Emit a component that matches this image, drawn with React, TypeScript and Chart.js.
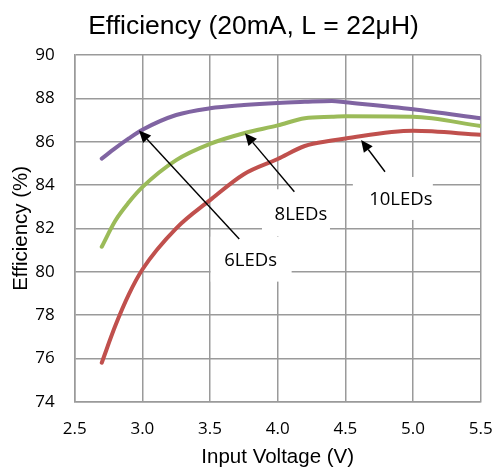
import { useEffect, useRef } from 'react';
import { Chart, registerables } from 'chart.js';

Chart.register(...registerables);

// Input voltage (V) sample points
const voltage = [2.7, 2.8, 2.9, 3.0, 3.25, 3.5, 3.75, 4.0, 4.2, 4.4, 4.5, 5.0, 5.5];
// Efficiency (%) per series
const led6 = [85.22, 85.7, 86.15, 86.55, 87.23, 87.54, 87.69, 87.79, 87.84, 87.88, 87.82, 87.5, 87.08];
const led8 = [81.15, 82.35, 83.2, 83.9, 85.15, 85.9, 86.39, 86.75, 87.08, 87.15, 87.17, 87.15, 86.72];
const led10 = [75.8, 77.5, 78.95, 80.1, 82.0, 83.3, 84.5, 85.2, 85.8, 86.05, 86.15, 86.5, 86.32];

const seriesNames = ['6LEDs', '8LEDs', '10LEDs'];
const xMin = 2.5;
const xMax = 5.5;
const xStep = 0.5;
const yMin = 74;
const yMax = 90;
const yStep = 2;

// Callout annotations (data units)
const arrowTipX = [2.975, 3.758, 4.616];
const arrowTipY = [86.52, 86.39, 86.08];
const arrowTailX = [3.716, 4.123, 4.793];
const arrowTailY = [81.51, 83.69, 84.61];
const labelX = [3.8, 4.172, 4.91];
const labelY = [80.51, 82.65, 83.31];

const titleText = 'Efficiency (20mA, L = 22μH)';
const xTitle = 'Input Voltage (V)';
const yTitle = 'Efficiency (%)';

// label box offsets in px from label centre: [left, right, top, bottom]
const BOXES = [
  [-40, 41, -24, 21],
  [-39, 29, -25, 22],
  [-48, 32, -23, 20],
];

const notesPlugin = {
  id: 'notes',
  beforeDatasetsDraw(chart: any) {
    const { ctx, scales } = chart;
    const x = scales.x;
    const y = scales.y;
    ctx.save();
    ctx.fillStyle = '#ffffff';
    seriesNames.forEach((_, i) => {
      const cx = x.getPixelForValue(labelX[i]);
      const cy = y.getPixelForValue(labelY[i]);
      const b = BOXES[i];
      ctx.fillRect(cx + b[0], cy + b[2], b[1] - b[0], b[3] - b[2]);
    });
    ctx.restore();
  },
  afterDatasetsDraw(chart: any) {
    const { ctx, scales } = chart;
    const x = scales.x;
    const y = scales.y;
    ctx.save();
    seriesNames.forEach((name, i) => {
      const tx = x.getPixelForValue(arrowTipX[i]);
      const ty = y.getPixelForValue(arrowTipY[i]);
      const sx = x.getPixelForValue(arrowTailX[i]);
      const sy = y.getPixelForValue(arrowTailY[i]);
      const ang = Math.atan2(ty - sy, tx - sx);
      const headLen = 12;
      const headW = 5.5;
      const bx = tx - headLen * Math.cos(ang);
      const by = ty - headLen * Math.sin(ang);
      ctx.strokeStyle = '#000';
      ctx.lineWidth = 1.4;
      ctx.beginPath();
      ctx.moveTo(sx, sy);
      ctx.lineTo(bx, by);
      ctx.stroke();
      ctx.fillStyle = '#000';
      ctx.beginPath();
      ctx.moveTo(tx, ty);
      ctx.lineTo(bx + headW * Math.sin(ang), by - headW * Math.cos(ang));
      ctx.lineTo(bx - headW * Math.sin(ang), by + headW * Math.cos(ang));
      ctx.closePath();
      ctx.fill();

      const cx = x.getPixelForValue(labelX[i]);
      const cy = y.getPixelForValue(labelY[i]);
      ctx.font = '18.5px "Open Sans"';
      ctx.textAlign = 'center';
      ctx.textBaseline = 'middle';
      ctx.fillStyle = '#000';
      ctx.fillText(name, cx, cy);
    });
    ctx.restore();
  },
  afterDraw(chart: any) {
    const { ctx } = chart;
    ctx.save();
    ctx.font = '26.5px "Liberation Sans"';
    ctx.textAlign = 'center';
    ctx.textBaseline = 'alphabetic';
    ctx.fillStyle = '#000';
    ctx.fillText(titleText, 253.5, 33.5);
    ctx.restore();
  },
};

export default function App() {
  const ref = useRef<HTMLCanvasElement | null>(null);

  useEffect(() => {
    if (!ref.current) return;
    const gridColor = '#9a9a9a';
    const chart = new Chart(ref.current, {
      type: 'line',
      data: {
        labels: voltage,
        datasets: [
          {
            label: seriesNames[2],
            data: voltage.map((v, i) => ({ x: v, y: led10[i] })),
            borderColor: '#C0504D',
            borderWidth: 4,
            pointRadius: 0,
            cubicInterpolationMode: 'monotone',
            borderCapStyle: 'round',
          },
          {
            label: seriesNames[1],
            data: voltage.map((v, i) => ({ x: v, y: led8[i] })),
            borderColor: '#9BBB59',
            borderWidth: 4,
            pointRadius: 0,
            cubicInterpolationMode: 'monotone',
            borderCapStyle: 'round',
          },
          {
            label: seriesNames[0],
            data: voltage.map((v, i) => ({ x: v, y: led6[i] })),
            borderColor: '#8064A2',
            borderWidth: 4,
            pointRadius: 0,
            cubicInterpolationMode: 'monotone',
            borderCapStyle: 'round',
          },
        ],
      },
      options: {
        animation: false,
        responsive: false,
        maintainAspectRatio: false,
        layout: { padding: { top: 55, right: 12.3, left: 0, bottom: 0 } },
        plugins: {
          legend: { display: false },
          tooltip: { enabled: false },
          title: { display: false },
        },
        scales: {
          x: {
            type: 'linear',
            min: xMin,
            max: xMax,
            ticks: {
              stepSize: xStep,
              padding: 17,
              color: '#000',
              font: { family: 'Open Sans', size: 17 },
              callback: (v: any) => Number(v).toFixed(1),
            },
            grid: { color: gridColor, lineWidth: 1.5, drawTicks: false },
            border: { color: gridColor, width: 1.5 },
            title: {
              display: true,
              text: xTitle,
              color: '#000',
              font: { family: 'Liberation Sans', size: 20.5 },
              padding: { top: 0, bottom: 1 },
            },
            afterFit: (s: any) => {
              s.height = 69.3;
              s.paddingLeft = 0;
              s.paddingRight = 0;
            },
          },
          y: {
            type: 'linear',
            min: yMin,
            max: yMax,
            ticks: {
              stepSize: yStep,
              padding: 20,
              color: '#000',
              font: { family: 'Open Sans', size: 17 },
            },
            grid: { color: gridColor, lineWidth: 1.5, drawTicks: false },
            border: { color: gridColor, width: 1.5 },
            title: {
              display: true,
              text: yTitle,
              color: '#000',
              font: { family: 'Liberation Sans', size: 20.5 },
              padding: { top: 9, bottom: 0 },
            },
            afterFit: (s: any) => {
              s.width = 74.7;
              s.paddingTop = 0;
              s.paddingBottom = 0;
            },
          },
        },
      } as any,
      plugins: [notesPlugin],
    });
    return () => chart.destroy();
  }, []);

  return (
    <div style={{ position: 'absolute', left: 0, top: 0, width: 493, height: 471, background: '#fff' }}>
      <canvas ref={ref} width={493} height={471} />
    </div>
  );
}
